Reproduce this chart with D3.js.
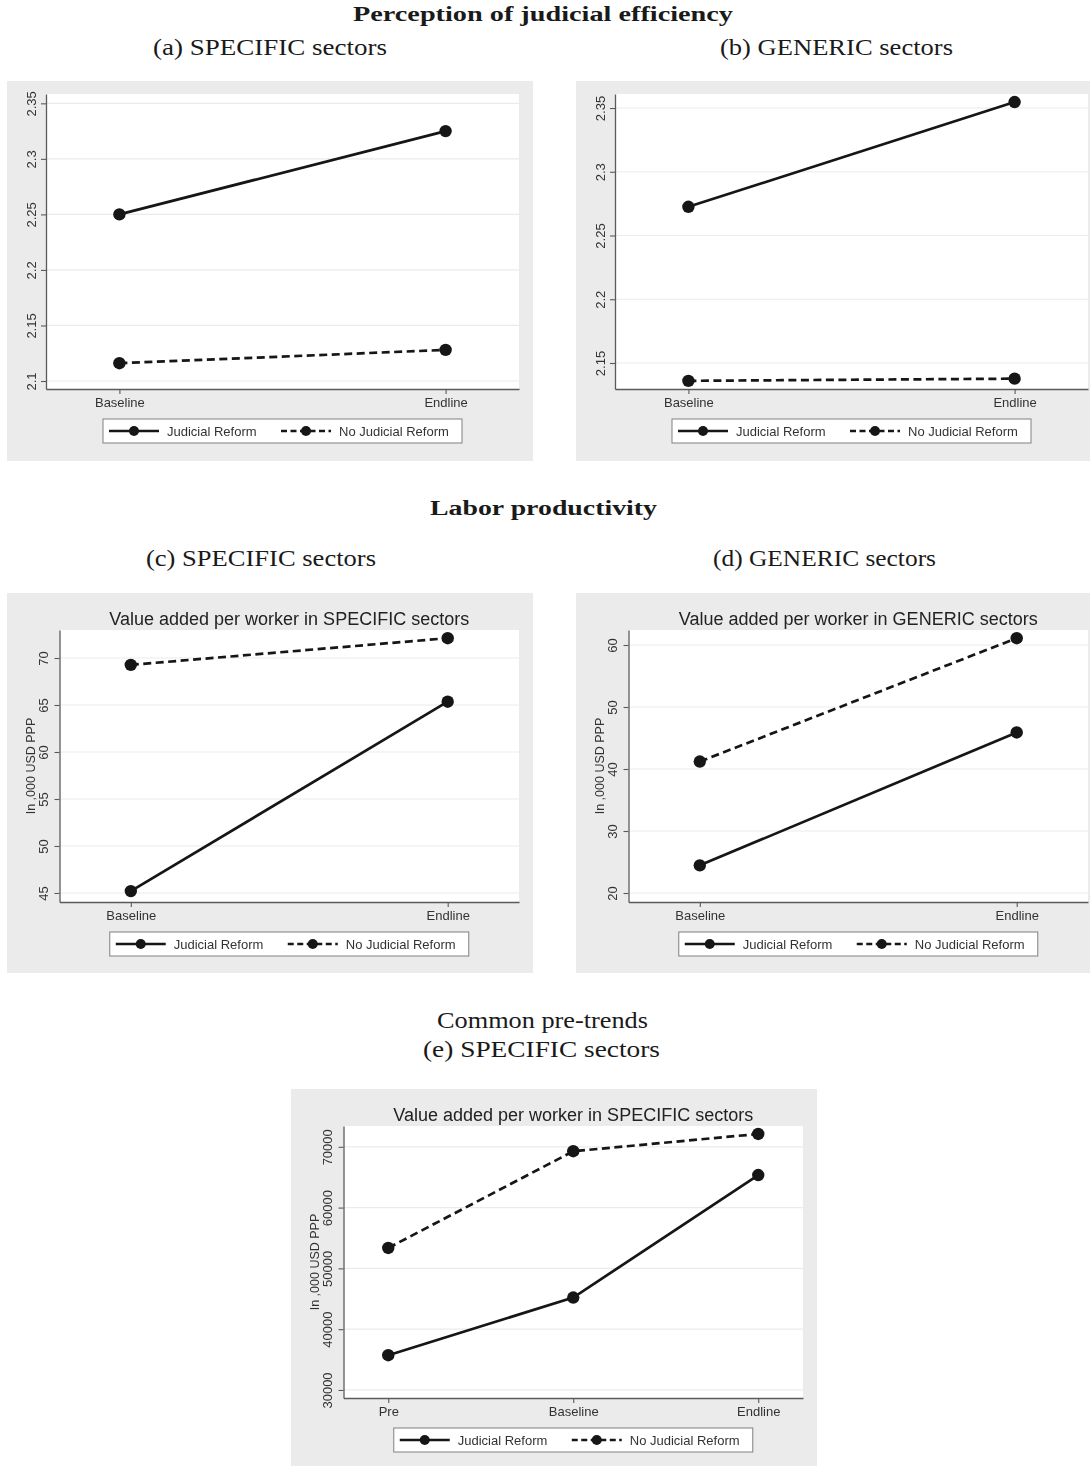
<!DOCTYPE html>
<html>
<head>
<meta charset="utf-8">
<script src="https://cdn.jsdelivr.net/npm/d3@7"></script>
<style>
  body { margin: 0; background: #fff; }
  svg { display: block; }
</style>
</head>
<body>
<svg id="fig" width="1090" height="1466"></svg>
<script>
// ---- data ----
const stagesTwo = ["Baseline", "Endline"];
const stagesThree = ["Pre", "Baseline", "Endline"];
const seriesNames = ["Judicial Reform", "No Judicial Reform"];

// perception of judicial efficiency
const effSpecificReform = [2.250, 2.325];
const effSpecificNoReform = [2.116, 2.128];
const effGenericReform = [2.2725, 2.3547];
const effGenericNoReform = [2.136, 2.1377];

// value added per worker, ,000 USD PPP
const vaSpecificReform = [45.2, 65.35];
const vaSpecificNoReform = [69.27, 72.11];
const vaGenericReform = [24.46, 45.9];
const vaGenericNoReform = [41.2, 61.1];

// pre-trends, USD PPP
const trendReform = [35720, 45200, 65350];
const trendNoReform = [53360, 69270, 72110];

// axis ticks and ranges
const effSpecificTicks = [2.1, 2.15, 2.2, 2.25, 2.3, 2.35];
const effGenericTicks = [2.15, 2.2, 2.25, 2.3, 2.35];
const vaSpecificTicks = [45, 50, 55, 60, 65, 70];
const vaGenericTicks = [20, 30, 40, 50, 60];
const trendTicks = [30000, 40000, 50000, 60000, 70000];

const effSpecificRange = [2.0928, 2.3584];
const effGenericRange = [2.1296, 2.361];
const vaSpecificRange = [44.04, 72.98];
const vaGenericRange = [18.55, 62.42];
const trendRange = [28680, 73420];

// ---- styling ----
const PANEL_W = 526, PANEL_H = 380;
const BG = "#ebebeb";
const GRID = "#ebebeb";
const INK = "#161616";
const AXIS = "#5a5a5a";
const SANS = "'Liberation Sans', Arial, sans-serif";
const SERIF = "'Liberation Serif', 'Times New Roman', serif";
const DASH = "8,4.5";

const layoutPlain = { left: 39, right: 512, top: 13, bottom: 308, labelX: 29, legTop: 338 };
const layoutTitled = { left: 52.5, right: 512, top: 37, bottom: 309, labelX: 41, yTitleX: 27.5, titleY: 31.5, legTop: 339 };

const fig = d3.select("#fig");

// soft rendering of the exported graph panels
fig.append("defs").append("filter").attr("id", "soft")
  .attr("x", "-2%").attr("y", "-2%").attr("width", "104%").attr("height", "104%")
  .append("feGaussianBlur").attr("stdDeviation", 0.4);

// serif headings, stretched to the width of the typeset captions
function heading(text, x0, x1, baseline, size, bold) {
  fig.append("text")
    .attr("x", x0).attr("y", baseline)
    .attr("font-family", SERIF)
    .attr("font-size", size)
    .attr("font-weight", bold ? "bold" : "normal")
    .attr("fill", "#1a1a1a")
    .attr("textLength", x1 - x0)
    .attr("lengthAdjust", "spacingAndGlyphs")
    .text(text);
}

heading("Perception of judicial efficiency", 353, 733, 21, 20, true);
heading("(a) SPECIFIC sectors", 153, 387, 55, 22.5, false);
heading("(b) GENERIC sectors", 720, 953, 55, 22.5, false);
heading("Labor productivity", 430, 657, 515, 20, true);
heading("(c) SPECIFIC sectors", 146, 376, 566, 22.5, false);
heading("(d) GENERIC sectors", 713, 936, 566, 22.5, false);
heading("Common pre-trends", 437, 648, 1028, 22.5, false);
heading("(e) SPECIFIC sectors", 423, 660, 1057, 22.5, false);

function drawPanel(p) {
  const L = p.layout;
  const g = fig.append("g")
    .attr("transform", `translate(${p.x},${p.y})`)
    .attr("filter", "url(#soft)");

  g.append("rect").attr("width", PANEL_W).attr("height", PANEL_H).attr("fill", BG);
  g.append("rect")
    .attr("x", L.left).attr("y", L.top)
    .attr("width", L.right - L.left).attr("height", L.bottom - L.top)
    .attr("fill", "#fff");

  const x = d3.scalePoint().domain(p.cats).range([L.left, L.right]).padding(p.pad);
  const y = d3.scaleLinear().domain(p.range).range([L.bottom, L.top]);

  // horizontal gridlines
  g.append("g").selectAll("line").data(p.ticks).join("line")
    .attr("x1", L.left).attr("x2", L.right)
    .attr("y1", d => y(d)).attr("y2", d => y(d))
    .attr("stroke", GRID).attr("stroke-width", 1.2);

  // y axis
  const ya = g.append("g")
    .attr("transform", `translate(${L.left},0)`)
    .call(d3.axisLeft(y).tickValues(p.ticks).tickSize(5).tickSizeOuter(0).tickFormat(d => String(d)));
  ya.attr("color", AXIS);
  ya.select(".domain").attr("stroke-width", 1.3);
  ya.selectAll(".tick line").attr("stroke-width", 1.1);
  ya.selectAll(".tick text")
    .attr("x", null).attr("dy", null)
    .attr("text-anchor", "middle")
    .attr("transform", `translate(${L.labelX - L.left},0) rotate(-90)`)
    .attr("font-family", SANS).attr("font-size", 13).attr("fill", "#333");

  // x axis
  const xa = g.append("g")
    .attr("transform", `translate(0,${L.bottom})`)
    .call(d3.axisBottom(x).tickSize(5).tickSizeOuter(0));
  xa.attr("color", AXIS);
  xa.select(".domain").attr("stroke-width", 1.3);
  xa.selectAll(".tick line").attr("stroke-width", 1.1);
  xa.selectAll(".tick text")
    .attr("y", 18).attr("dy", null)
    .attr("font-family", SANS).attr("font-size", 13).attr("fill", "#333");

  if (p.title) {
    g.append("text")
      .attr("x", (L.left + L.right) / 2).attr("y", L.titleY)
      .attr("text-anchor", "middle")
      .attr("font-family", SANS).attr("font-size", 18).attr("fill", "#222")
      .text(p.title);
  }
  if (p.yTitle) {
    g.append("text")
      .attr("transform", `translate(${L.yTitleX},${(L.top + L.bottom) / 2}) rotate(-90)`)
      .attr("text-anchor", "middle")
      .attr("font-family", SANS).attr("font-size", 12.5).attr("fill", "#333")
      .text(p.yTitle);
  }

  // series
  const line = d3.line().x((d, i) => x(p.cats[i])).y(d => y(d));
  p.series.forEach(s => {
    g.append("path")
      .attr("d", line(s.values))
      .attr("fill", "none").attr("stroke", INK).attr("stroke-width", 2.7)
      .attr("stroke-dasharray", s.dashed ? DASH : null);
    g.append("g").selectAll("circle").data(s.values).join("circle")
      .attr("cx", (d, i) => x(p.cats[i])).attr("cy", d => y(d))
      .attr("r", 6.2).attr("fill", INK);
  });

  // legend
  const legW = 359, legH = 24;
  const lg = g.append("g")
    .attr("transform", `translate(${(L.left + L.right) / 2 - legW / 2},${L.legTop})`);
  lg.append("rect").attr("width", legW).attr("height", legH)
    .attr("fill", "#fff").attr("stroke", "#8a8a8a").attr("stroke-width", 1.1);
  p.series.forEach((s, i) => {
    const ox = i * 172;
    lg.append("line")
      .attr("x1", ox + 6).attr("x2", ox + 56)
      .attr("y1", legH / 2).attr("y2", legH / 2)
      .attr("stroke", INK).attr("stroke-width", 2.6)
      .attr("stroke-dasharray", s.dashed ? "6,3.5" : null);
    lg.append("circle").attr("cx", ox + 31).attr("cy", legH / 2).attr("r", 5).attr("fill", INK);
    lg.append("text")
      .attr("x", ox + 64).attr("y", legH / 2 + 4.5)
      .attr("font-family", SANS).attr("font-size", 13).attr("fill", "#333")
      .text(s.name);
  });
}

drawPanel({
  x: 7, y: 81, layout: layoutPlain, cats: stagesTwo, pad: 0.225,
  ticks: effSpecificTicks, range: effSpecificRange,
  series: [
    { name: seriesNames[0], values: effSpecificReform, dashed: false },
    { name: seriesNames[1], values: effSpecificNoReform, dashed: true }
  ]
});

drawPanel({
  x: 576, y: 81, layout: layoutPlain, cats: stagesTwo, pad: 0.225,
  ticks: effGenericTicks, range: effGenericRange,
  series: [
    { name: seriesNames[0], values: effGenericReform, dashed: false },
    { name: seriesNames[1], values: effGenericNoReform, dashed: true }
  ]
});

drawPanel({
  x: 7, y: 593, layout: layoutTitled, cats: stagesTwo, pad: 0.225,
  ticks: vaSpecificTicks, range: vaSpecificRange,
  title: "Value added per worker in SPECIFIC sectors", yTitle: "In ,000 USD PPP",
  series: [
    { name: seriesNames[0], values: vaSpecificReform, dashed: false },
    { name: seriesNames[1], values: vaSpecificNoReform, dashed: true }
  ]
});

drawPanel({
  x: 576, y: 593, layout: layoutTitled, cats: stagesTwo, pad: 0.225,
  ticks: vaGenericTicks, range: vaGenericRange,
  title: "Value added per worker in GENERIC sectors", yTitle: "In ,000 USD PPP",
  series: [
    { name: seriesNames[0], values: vaGenericReform, dashed: false },
    { name: seriesNames[1], values: vaGenericNoReform, dashed: true }
  ]
});

drawPanel({
  x: 291, y: 1089, layout: layoutTitled, cats: stagesThree, pad: 0.242,
  ticks: trendTicks, range: trendRange,
  title: "Value added per worker in SPECIFIC sectors", yTitle: "In ,000 USD PPP",
  series: [
    { name: seriesNames[0], values: trendReform, dashed: false },
    { name: seriesNames[1], values: trendNoReform, dashed: true }
  ]
});
</script>
</body>
</html>
